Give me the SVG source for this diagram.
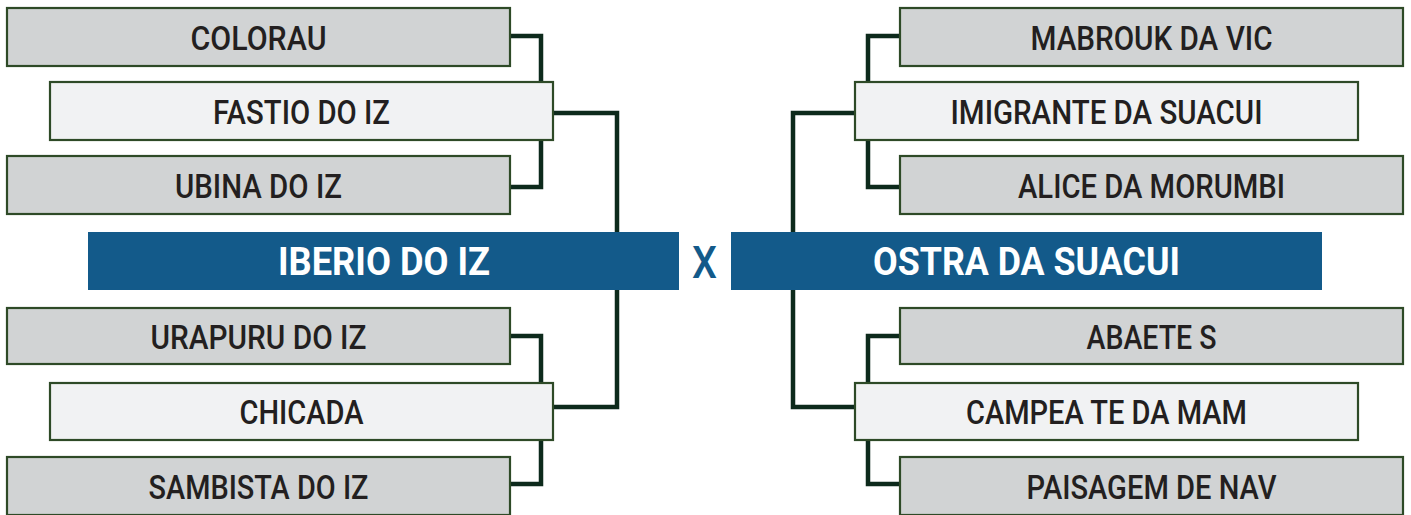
<svg xmlns="http://www.w3.org/2000/svg" width="1411" height="515" viewBox="0 0 1411 515">
<style>
.box{stroke:#2e4a27;stroke-width:2.2}
.g{fill:#d1d3d4}
.l{fill:#f1f2f3}
.t{font-family:Roboto,"Liberation Sans",sans-serif;font-weight:500;font-size:33px;fill:#231f20;text-anchor:middle}
.bar{fill:#135a8a}
.bt{font-family:Roboto,"Liberation Sans",sans-serif;font-weight:700;font-size:38px;fill:#ffffff;text-anchor:middle}
.x{font-family:Roboto,"Liberation Sans",sans-serif;font-weight:500;font-size:44px;fill:#135a8a;text-anchor:middle}
.c{fill:none;stroke:#0d2a1c;stroke-width:4.5}
</style>
<g id="connectors">
<path class="c" d="M510,36 H541 V82"/>
<path class="c" d="M541,140 V187 H510"/>
<path class="c" d="M553,113 H617 V407 H553"/>
<path class="c" d="M510,336 H541 V383"/>
<path class="c" d="M541,440 V484 H510"/>
<path class="c" d="M900,36 H868 V82"/>
<path class="c" d="M868,140 V187 H900"/>
<path class="c" d="M855,113 H793 V407 H855"/>
<path class="c" d="M900,336 H868 V383"/>
<path class="c" d="M868,440 V484 H900"/>
</g>
<g id="colorau"><rect class="box g" x="7" y="8" width="503" height="58"/><text class="t" x="258.5" y="49.5" textLength="136" lengthAdjust="spacingAndGlyphs">COLORAU</text></g>
<g id="fastio"><rect class="box l" x="50" y="82" width="503" height="58"/><text class="t" x="301.5" y="123.5" textLength="177" lengthAdjust="spacingAndGlyphs">FASTIO DO IZ</text></g>
<g id="ubina"><rect class="box g" x="7" y="156" width="503" height="58"/><text class="t" x="258.5" y="197.5" textLength="167" lengthAdjust="spacingAndGlyphs">UBINA DO IZ</text></g>
<g id="iberio"><rect class="bar" x="88" y="232" width="591" height="58"/><text class="bt" x="384" y="275" textLength="212" lengthAdjust="spacingAndGlyphs">IBERIO DO IZ</text></g>
<g id="versus"><text class="x" x="704.5" y="277.5" textLength="25" lengthAdjust="spacingAndGlyphs">X</text></g>
<g id="ostra"><rect class="bar" x="731" y="232" width="591" height="58"/><text class="bt" x="1026.5" y="275" textLength="307" lengthAdjust="spacingAndGlyphs">OSTRA DA SUACUI</text></g>
<g id="urapuru"><rect class="box g" x="7" y="308" width="503" height="56"/><text class="t" x="258.5" y="348.5" textLength="216" lengthAdjust="spacingAndGlyphs">URAPURU DO IZ</text></g>
<g id="chicada"><rect class="box l" x="50" y="383" width="503" height="57"/><text class="t" x="301.5" y="424" textLength="124" lengthAdjust="spacingAndGlyphs">CHICADA</text></g>
<g id="sambista"><rect class="box g" x="7" y="457" width="503" height="58"/><text class="t" x="258.5" y="498.5" textLength="220" lengthAdjust="spacingAndGlyphs">SAMBISTA DO IZ</text></g>
<g id="mabrouk"><rect class="box g" x="900" y="8" width="503" height="58"/><text class="t" x="1151.5" y="49.5" textLength="242" lengthAdjust="spacingAndGlyphs">MABROUK DA VIC</text></g>
<g id="imigrante"><rect class="box l" x="855" y="82" width="503" height="58"/><text class="t" x="1106.5" y="123.5" textLength="312" lengthAdjust="spacingAndGlyphs">IMIGRANTE DA SUACUI</text></g>
<g id="alice"><rect class="box g" x="900" y="156" width="503" height="58"/><text class="t" x="1151.5" y="197.5" textLength="267" lengthAdjust="spacingAndGlyphs">ALICE DA MORUMBI</text></g>
<g id="abaete"><rect class="box g" x="900" y="308" width="503" height="56"/><text class="t" x="1151.5" y="348.5" textLength="130" lengthAdjust="spacingAndGlyphs">ABAETE S</text></g>
<g id="campea"><rect class="box l" x="855" y="383" width="503" height="57"/><text class="t" x="1106.5" y="424" textLength="281" lengthAdjust="spacingAndGlyphs">CAMPEA TE DA MAM</text></g>
<g id="paisagem"><rect class="box g" x="900" y="457" width="503" height="58"/><text class="t" x="1151.5" y="498.5" textLength="250" lengthAdjust="spacingAndGlyphs">PAISAGEM DE NAV</text></g>
</svg>
